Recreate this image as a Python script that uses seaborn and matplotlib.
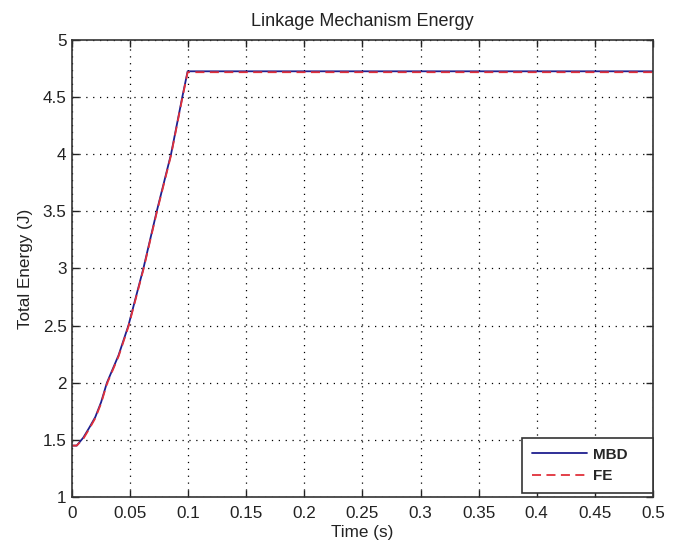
import numpy as np
import pandas as pd
import matplotlib
matplotlib.use("Agg")
import matplotlib.pyplot as plt
import seaborn as sns

# Data
time_mbd = [0.0, 0.004, 0.0097, 0.015, 0.02, 0.025, 0.03, 0.04, 0.0485, 0.0614, 0.0729, 0.0852, 0.0949, 0.0995, 0.5]
energy_mbd = [1.45, 1.45, 1.52, 1.61, 1.70, 1.83, 2.0, 2.24, 2.5, 3.0, 3.5, 4.0, 4.5, 4.725, 4.725]
time_fe = [0.0, 0.004, 0.0097, 0.015, 0.02, 0.025, 0.03, 0.04, 0.0485, 0.0614, 0.0729, 0.0852, 0.0949, 0.0995, 0.5]
energy_fe = [1.45, 1.45, 1.51, 1.60, 1.69, 1.82, 1.99, 2.23, 2.49, 2.99, 3.49, 3.99, 4.49, 4.717, 4.717]

xticks = [0, 0.05, 0.1, 0.15, 0.2, 0.25, 0.3, 0.35, 0.4, 0.45, 0.5]
xticklabels = ["0", "0.05", "0.1", "0.15", "0.2", "0.25", "0.3", "0.35", "0.4", "0.45", "0.5"]
yticks = [1, 1.5, 2, 2.5, 3, 3.5, 4, 4.5, 5]
yticklabels = ["1", "1.5", "2", "2.5", "3", "3.5", "4", "4.5", "5"]

sns.set_style("white")
plt.rcParams['font.family'] = ['Liberation Sans', 'DejaVu Sans']

fig = plt.figure(figsize=(6.8, 5.41), dpi=100)
ax = fig.add_axes([0.106, 0.0813, 0.854, 0.845])

df_mbd = pd.DataFrame({"t": time_mbd, "E": energy_mbd})
df_fe = pd.DataFrame({"t": time_fe, "E": energy_fe})
sns.lineplot(data=df_mbd, x="t", y="E", ax=ax, color="#1f1f8f", lw=1.3, label="MBD")
sns.lineplot(data=df_fe, x="t", y="E", ax=ax, color="#e0303a", lw=1.3, linestyle=(0, (5, 3)), label="FE")

ax.set_xlim(0, 0.5)
ax.set_ylim(1, 5)
ax.set_xticks(xticks)
ax.set_xticklabels(xticklabels)
ax.set_yticks(yticks)
ax.set_yticklabels(yticklabels)
ax.tick_params(direction="in", length=5, width=1, colors="#222222", labelsize=12.3,
               top=True, right=True, bottom=True, left=True)
ax.tick_params(axis="x", pad=6.5)
ax.tick_params(axis="y", pad=4)
ax.grid(True, linestyle=(0, (1, 4.5)), color="black", linewidth=0.9)
for s in ax.spines.values():
    s.set_color("#333333")
    s.set_linewidth(1.2)
    s.set_visible(True)

ax.set_title("Linkage Mechanism Energy", fontsize=13, pad=10, color="#222222")
ax.set_xlabel("Time (s)", fontsize=12.3, labelpad=2.5, color="#222222")
ax.set_ylabel("Total Energy (J)", fontsize=12.3, labelpad=7, color="#222222")

leg = ax.legend(loc="lower left", bbox_to_anchor=(0.7745, 0.008, 0.2255, 0.13), mode="expand",
                fancybox=False, framealpha=1,
                edgecolor="#333333", prop={"weight": "bold", "size": 11}, handlelength=3.6,
                handletextpad=0.4, borderaxespad=0.0, borderpad=0.65, labelspacing=0.5)
leg.get_frame().set_linewidth(1.2)

fig.savefig("out.png", dpi=100, facecolor="white")
